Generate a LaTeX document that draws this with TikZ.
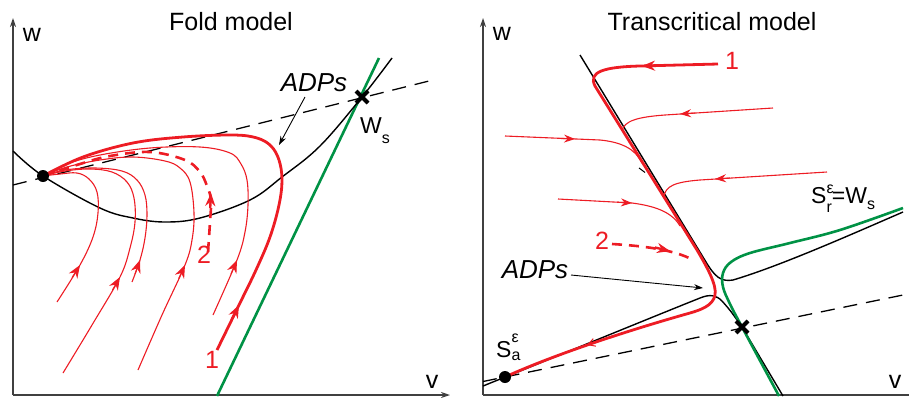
\documentclass[tikz,border=0pt]{standalone}
\usepackage{fontspec}
\setmainfont{Liberation Sans}
\usetikzlibrary{arrows.meta}
\definecolor{myred}{HTML}{ED1C24}
\definecolor{mygreen}{HTML}{009245}
\newcommand{\lbSS}[5]{#1\rlap{\raisebox{#5}{\fontsize{16}{16}\selectfont #3}}\raisebox{-#4}{\fontsize{16}{16}\selectfont #2}}
\begin{document}
\begin{tikzpicture}[x=1pt,y=-1pt,
  traj/.style={myred, line width=1.1pt},
  thicktraj/.style={myred, line width=2.8pt},
  dashtraj/.style={myred, line width=2.6pt, dash pattern=on 10pt off 7pt},
  blk/.style={black, line width=1.4pt},
  grn/.style={mygreen, line width=2.6pt},
  axisline/.style={black!75, line width=1.3pt},
  nulldash/.style={black, line width=1.3pt, dash pattern=on 14pt off 9pt},
  bigtip/.style={myred, line width=1.1pt, solid, -{Stealth[length=13pt,width=10pt]}},
  smalltip/.style={myred, line width=1.1pt, solid, -{Stealth[length=11pt,width=8pt]}},
  lab/.style={font=\fontsize{25}{25}\selectfont, inner sep=0pt, anchor=base},
  slab/.style={font=\fontsize{23}{23}\selectfont, inner sep=0pt, anchor=base west},
  itlab/.style={font=\fontsize{26}{26}\selectfont\itshape, inner sep=0pt, anchor=base},
  ttl/.style={font=\fontsize{25}{25}\selectfont, inner sep=0pt, anchor=base},
  cross/.style={black, line width=4pt},
  ptr/.style={black, line width=0.9pt, -{Stealth[length=9pt,width=6pt]}}
]
\useasboundingbox (0,0) rectangle (909,397);

% ================= LEFT PANEL =================
\draw[axisline, -{Stealth[length=9pt,width=6pt]}] (13,395) -- (13,18);
\draw[axisline, -{Stealth[length=9pt,width=6pt]}] (13,395) -- (450,395);
\node[ttl] (t1) at (231,30) {Fold model};
\node[lab] (w1) at (32,41) {w};
\node[lab] (v1) at (432,388) {v};

% dashed nullcline
\draw[nulldash] (13,185) -- (433,80);
% green line
\draw[grn] (217,396) -- (379,58);
% black cubic nullcline
\draw[blk] plot[smooth, tension=0.6] coordinates {(13,151) (43,176) (100,208) (133,218) (165,222) (200,218) (250,200) (282,177) (320,146) (362,97) (392,58)};

% red trajectories
\draw[traj] plot[smooth, tension=0.6] coordinates {(57,302) (80,265) (93,237) (98,213) (97,192) (89,179) (77,173) (60,174) (43,176)};
\draw[traj] plot[smooth, tension=0.6] coordinates {(63,373) (92,325) (120,277) (130,248) (135,222) (134,198) (127,182) (112,172) (90,169) (65,171) (43,176)};
\draw[traj] plot[smooth, tension=0.6] coordinates {(132,282) (140,260) (145,238) (147,215) (145,195) (137,180) (122,171) (95,168) (65,170) (43,176)};
\draw[traj] plot[smooth, tension=0.6] coordinates {(138,370) (162,315) (185,265) (192,240) (194,213) (190,182) (180,168) (165,161) (133,157) (100,160) (67,167) (43,176)};
\draw[traj] plot[smooth, tension=0.6] coordinates {(213,315) (237,260) (245,232) (248,205) (247,180) (241,164) (230,153) (200,147) (150,148) (100,155) (67,164) (43,176)};
\draw[dashtraj] plot[smooth, tension=0.6] coordinates {(208,252) (210,222) (211,200) (207,186) (200,172) (185,160) (150,152) (110,156) (80,164) (43,176)};
\draw[thicktraj] plot[smooth, tension=0.6] coordinates {(217,350) (239,305) (256,270) (270,237) (279,205) (282,180) (279,160) (271,146) (257,138) (233,135) (183,137) (133,143) (83,157) (43,176)};
% arrowheads
\draw[bigtip] (72,277.7) -- (80,265);
\draw[bigtip] (112.5,290) -- (120,277);
\draw[bigtip] (135,274) -- (140,260);
\draw[bigtip] (178.7,278.6) -- (185,265);
\draw[bigtip] (231,273.8) -- (237,260);
\draw[bigtip, line width=2.4pt] (232.4,318.5) -- (239,305);
\draw[bigtip, line width=2.4pt] (210.2,208) -- (211,193);

% fixed point and saddle
\fill[black] (43,176) circle (6pt);
\draw[cross] (356,91) -- (368,103) (356,103) -- (368,91);

% labels
\node[lab, text=myred] (one1) at (212,368) {1};
\node[lab, text=myred] (two1) at (204,263) {2};
\node[itlab] (adp1) at (314,91) {ADPs};
\coordinate (adp1end) at (279,145);
\draw[ptr] (305,97) -- (adp1end);
\node[slab] (ws1) at (360,133) {\lbSS{W}{s}{}{10pt}{0pt}};

% ================= RIGHT PANEL =================
\draw[axisline, -{Stealth[length=9pt,width=6pt]}] (483,395) -- (483,18);
\draw[axisline] (483,395) -- (909,395);
\node[ttl] (t2) at (712,30) {Transcritical model};
\node[lab] (w2) at (502,40) {w};
\node[lab] (v2) at (895,388) {v};

% dashed nullcline
\draw[nulldash] (483,381.5) -- (903,295);
% black slow manifolds
\draw[blk] (580,55) -- (706,262) .. controls (715,277) and (721,282) .. (733,280) .. controls (780,266) and (850,235) .. (903,212);
\draw[blk] (483,386) .. controls (560,355) and (650,318) .. (700,298) .. controls (710,294) and (716,295) .. (722,301) .. controls (730,310) .. (742,327) -- (783,396);
% green
\draw[grn] plot[smooth, tension=0.6] coordinates {(903,208) (840,230) (790,243) (750,253) (731,262) (723,273) (723,287) (730,304) (742,327) (779,396)};
% small barb on black line
\draw[black, line width=1pt] (639,168) -- (645,172.5);

% red trajectories
\draw[traj] (773,108) -- (665,115) .. controls (637,117) and (624,121) .. (622,131);
\draw[traj] (505,136) -- (600,140) .. controls (620,142) and (635,148) .. (642,163);
\draw[traj] (827,172) -- (700,180) .. controls (675,182) and (665,186) .. (664,197);
\draw[traj] (558,199) -- (632,203) .. controls (655,206) and (672,212) .. (680,226);
\draw[dashtraj] (612,244) .. controls (645,246) and (675,250) .. (693,260);
\draw[thicktraj] (718,64) -- (640,66) .. controls (603,67) and (588,72) .. (595,86) -- (697,250) .. controls (707,267) and (717,285) .. (715,295) .. controls (713,306) and (700,310) .. (690,313) .. controls (640,327) and (560,352) .. (505,377);
\draw[myred, line width=1pt, -{Straight Barb[length=7pt,width=8pt]}] (598,341.2) -- (587,345);
% arrowheads
\draw[smalltip] (695,113) -- (680,114);
\draw[smalltip] (560,138.4) -- (575,139);
\draw[smalltip] (730,178) -- (715,179);
\draw[smalltip] (617,202.2) -- (632,203);
\draw[bigtip, line width=2.4pt] (655,247.5) -- (670,251);
\draw[bigtip, line width=2.4pt] (657,65.6) -- (642,66);

% fixed point and saddle
\fill[black] (505,377) circle (6pt);
\draw[cross] (736,321) -- (748,333) (736,333) -- (748,321);

% labels
\node[lab, text=myred] (one2) at (732,69) {1};
\node[lab, text=myred] (two2) at (602,249) {2};
\node[itlab] (adp2) at (535,278) {ADPs};
\coordinate (adp2end) at (703,288);
\draw[ptr] (571,275) -- (adp2end);
\node[slab] (sa) at (496,357) {\lbSS{S}{a}{ε}{3pt}{15pt}};
\node[slab] (sr) at (811,203) {\lbSS{S}{r}{ε}{9pt}{10pt}=\lbSS{W}{s}{}{6pt}{0pt}};
\end{tikzpicture}
\end{document}
